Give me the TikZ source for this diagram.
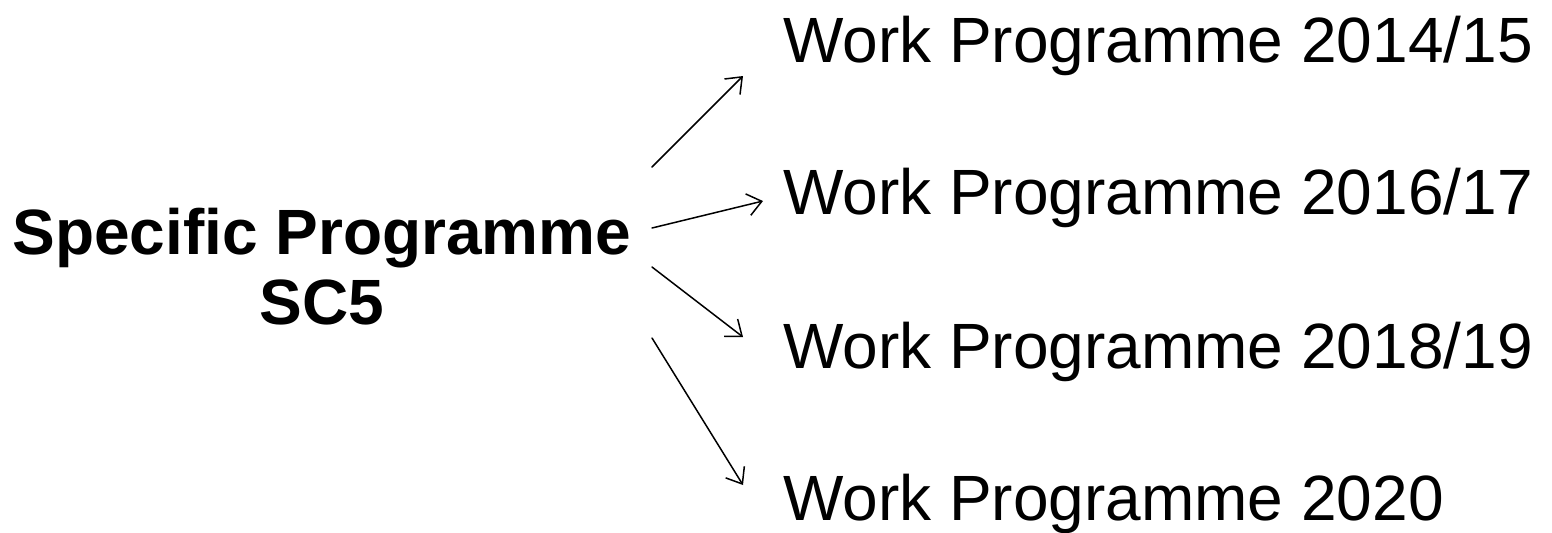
\documentclass[tikz,border=0pt]{standalone}
\usepackage{fontspec}
\setmainfont{Liberation Sans}
\usetikzlibrary{arrows.meta}
\begin{document}
\begin{tikzpicture}[x=0.5pt, y=-0.5pt, line cap=round, line join=round, >={Straight Barb[length=7pt,width=11pt]}, font=\fontsize{32}{36.5}\selectfont]
	\tikzset{wp/.style={anchor=base west, inner sep=0pt}}
	\useasboundingbox (0,0) rectangle (1552,532);
	\node[anchor=base, inner sep=0pt, align=center, font=\fontsize{32}{35}\selectfont\bfseries] (sp) at (322,324) {Specific Programme\\SC5};
	\node[wp] (wp1) at (783,62) {Work Programme 2014/15};
	\node[wp] (wp2) at (783,214) {Work Programme 2016/17};
	\node[wp] (wp3) at (783,368) {Work Programme 2018/19};
	\node[wp] (wp4) at (783,520) {Work Programme 2020};
	\coordinate (t1) at (652,167); \coordinate (h1) at (743,76);
	\coordinate (t2) at (652,228); \coordinate (h2) at (763,201);
	\coordinate (t3) at (652,267); \coordinate (h3) at (743,337);
	\coordinate (t4) at (652,338); \coordinate (h4) at (743,485);
	\draw[->, line width=0.75pt] (t1)--(h1);
	\draw[->, line width=0.75pt] (t2)--(h2);
	\draw[->, line width=0.75pt] (t3)--(h3);
	\draw[->, line width=0.75pt] (t4)--(h4);
\end{tikzpicture}
\end{document}
